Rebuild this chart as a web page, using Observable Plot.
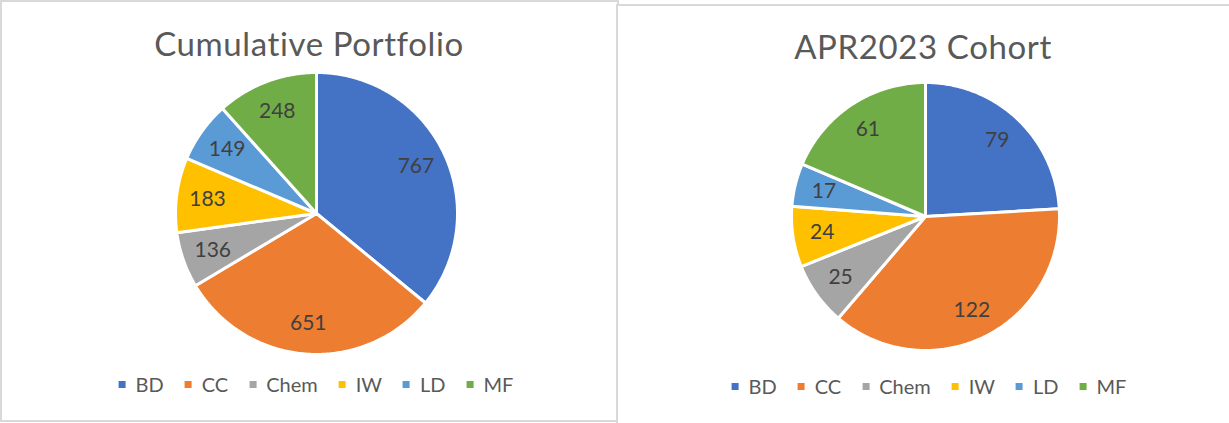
<!DOCTYPE html>
<html>
<head>
<meta charset="utf-8">
<script src="https://cdn.jsdelivr.net/npm/d3@7"></script>
<script src="https://cdn.jsdelivr.net/npm/@observablehq/plot@0.6"></script>
<style>
  html, body { margin: 0; padding: 0; background: #fff; }
  body { width: 1229px; height: 423px; position: relative; overflow: hidden; font-family: Lato, "Open Sans", sans-serif; }
  .panel { position: absolute; box-sizing: border-box; border: 2px solid #d9d9d9; background: #fff; }
  .title { position: absolute; color: #595959; font-size: 33px; letter-spacing: 0.6px; white-space: nowrap; transform: translateX(-50%); line-height: 1; }
  .pie { position: absolute; }
  .legend { position: absolute; display: flex; align-items: center; color: #595959; font-size: 20px; white-space: nowrap; transform: translateX(-50%); line-height: 1; }
  .legend .item { display: flex; align-items: center; margin-right: 21px; }
  .legend .item:last-child { margin-right: 0; }
  .legend .sw { width: 7px; height: 7px; margin-right: 10px; }
</style>
</head>
<body>
<div class="panel" style="left:0;top:0;width:619px;height:422px;"></div>
<div class="panel" style="left:616px;top:4px;width:630px;height:440px;border-right:none;border-bottom:none;"></div>
<div id="root"></div>
<script>
// ---- data ----
const categories = ["BD", "CC", "Chem", "IW", "LD", "MF"];
const portfolioValues = [767, 651, 136, 183, 149, 248];
const cohortValues = [79, 122, 25, 24, 17, 61];
const sliceColors = ["#4472C4", "#ED7D31", "#A5A5A5", "#FFC000", "#5B9BD5", "#70AD47"];
const titles = ["Cumulative Portfolio", "APR2023 Cohort"];

const root = document.getElementById("root");

function makePie(values, R) {
  const S = 2 * R + 12;
  const arcs = d3.pie().sort(null).value(d => d)(values);
  const pts = [];
  const labels = [];
  arcs.forEach((a, i) => {
    const cat = categories[i];
    pts.push({cat, x: 0, y: 0});
    const n = Math.max(2, Math.ceil((a.endAngle - a.startAngle) / 0.01));
    for (let k = 0; k <= n; k++) {
      const t = a.startAngle + (a.endAngle - a.startAngle) * k / n;
      pts.push({cat, x: R * Math.sin(t), y: R * Math.cos(t)});
    }
    pts.push({cat, x: 0, y: 0});
    const m = (a.startAngle + a.endAngle) / 2;
    labels.push({x: 0.78 * R * Math.sin(m), y: 0.78 * R * Math.cos(m), text: String(values[i])});
  });
  const svg = Plot.plot({
    width: S, height: S, margin: 0,
    x: {domain: [-S / 2, S / 2], axis: null},
    y: {domain: [-S / 2, S / 2], axis: null},
    color: {domain: categories, range: sliceColors},
    style: {background: "transparent", overflow: "visible"},
    marks: [
      Plot.line(pts, {x: "x", y: "y", z: "cat", fill: "cat", stroke: "white", strokeWidth: 3, strokeLinejoin: "round"}),
      Plot.text(labels, {x: "x", y: "y", text: "text", fill: "#404040", fontSize: 21, fontFamily: "Lato, sans-serif"})
    ]
  });
  return {svg, S};
}

function addChart(values, title, cx, cy, R, titleX, titleY, legendX, legendY) {
  const t = document.createElement("div");
  t.className = "title";
  t.textContent = title;
  t.style.left = titleX + "px";
  t.style.top = titleY + "px";
  root.appendChild(t);

  const {svg, S} = makePie(values, R);
  const wrap = document.createElement("div");
  wrap.className = "pie";
  wrap.style.left = (cx - S / 2) + "px";
  wrap.style.top = (cy - S / 2) + "px";
  wrap.appendChild(svg);
  root.appendChild(wrap);

  const lg = document.createElement("div");
  lg.className = "legend";
  lg.style.left = legendX + "px";
  lg.style.top = legendY + "px";
  categories.forEach((c, i) => {
    const it = document.createElement("div");
    it.className = "item";
    const sw = document.createElement("span");
    sw.className = "sw";
    sw.style.background = sliceColors[i];
    const tx = document.createElement("span");
    tx.textContent = c;
    it.appendChild(sw);
    it.appendChild(tx);
    lg.appendChild(it);
  });
  root.appendChild(lg);
}

addChart(portfolioValues, titles[0], 316, 213, 141, 309, 27, 316, 374);
addChart(cohortValues, titles[1], 925, 216, 134, 923, 30, 929, 376);
</script>
</body>
</html>
